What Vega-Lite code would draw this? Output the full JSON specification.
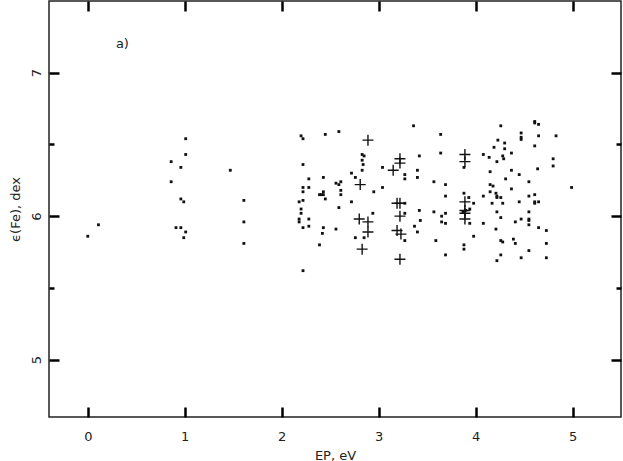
{
  "$schema": "https://vega.github.io/schema/vega-lite/v6.json",
  "width": 572,
  "height": 416,
  "autosize": {"type": "none"},
  "padding": {"left": 49, "top": 1, "right": 2, "bottom": 44},
  "background": "white",
  "config": {
    "view": {"stroke": "#222", "strokeWidth": 1.5},
    "font": "DejaVu Sans",
    "axis": {"grid": false, "domain": false, "labelColor": "#222", "titleColor": "#222", "labelFont": "DejaVu Sans", "titleFont": "DejaVu Sans", "labelFontSize": 13, "titleFontSize": 13, "titleFontWeight": "normal"}
  },
  "datasets": {
    "dots": [
      {"ep": 0.0, "eps": 5.86}, {"ep": 0.11, "eps": 5.94},
      {"ep": 1.01, "eps": 6.54}, {"ep": 1.01, "eps": 6.43}, {"ep": 0.86, "eps": 6.38}, {"ep": 0.96, "eps": 6.34}, {"ep": 0.86, "eps": 6.24}, {"ep": 0.96, "eps": 6.12}, {"ep": 0.99, "eps": 6.10}, {"ep": 0.91, "eps": 5.92}, {"ep": 0.96, "eps": 5.92}, {"ep": 1.01, "eps": 5.89}, {"ep": 0.99, "eps": 5.85},
      {"ep": 1.47, "eps": 6.32}, {"ep": 1.61, "eps": 6.11}, {"ep": 1.61, "eps": 5.96}, {"ep": 1.61, "eps": 5.81},
      {"ep": 2.20, "eps": 6.56}, {"ep": 2.22, "eps": 6.54}, {"ep": 2.45, "eps": 6.57}, {"ep": 2.59, "eps": 6.59}, {"ep": 2.22, "eps": 6.36}, {"ep": 2.28, "eps": 6.26}, {"ep": 2.43, "eps": 6.27}, {"ep": 2.56, "eps": 6.23}, {"ep": 2.59, "eps": 6.22}, {"ep": 2.22, "eps": 6.20}, {"ep": 2.28, "eps": 6.20}, {"ep": 2.22, "eps": 6.17}, {"ep": 2.43, "eps": 6.17}, {"ep": 2.39, "eps": 6.15}, {"ep": 2.41, "eps": 6.15}, {"ep": 2.43, "eps": 6.15}, {"ep": 2.45, "eps": 6.12}, {"ep": 2.18, "eps": 6.10}, {"ep": 2.22, "eps": 6.11}, {"ep": 2.59, "eps": 6.06}, {"ep": 2.20, "eps": 6.05}, {"ep": 2.20, "eps": 6.02}, {"ep": 2.18, "eps": 5.98}, {"ep": 2.18, "eps": 5.96}, {"ep": 2.28, "eps": 5.98}, {"ep": 2.22, "eps": 5.92}, {"ep": 2.28, "eps": 5.93}, {"ep": 2.43, "eps": 5.92}, {"ep": 2.56, "eps": 5.91}, {"ep": 2.42, "eps": 5.88}, {"ep": 2.39, "eps": 5.80}, {"ep": 2.22, "eps": 5.62},
      {"ep": 2.83, "eps": 6.43}, {"ep": 2.85, "eps": 6.42}, {"ep": 2.83, "eps": 6.39}, {"ep": 2.84, "eps": 6.36}, {"ep": 2.83, "eps": 6.32}, {"ep": 2.72, "eps": 6.30}, {"ep": 2.76, "eps": 6.27}, {"ep": 3.04, "eps": 6.34}, {"ep": 2.61, "eps": 6.24}, {"ep": 2.61, "eps": 6.18}, {"ep": 2.61, "eps": 6.15}, {"ep": 3.04, "eps": 6.20}, {"ep": 2.95, "eps": 6.17}, {"ep": 2.72, "eps": 6.10}, {"ep": 2.94, "eps": 6.02}, {"ep": 2.76, "eps": 5.85}, {"ep": 2.85, "eps": 5.85}, {"ep": 3.27, "eps": 6.02}, {"ep": 3.27, "eps": 5.83}, {"ep": 3.27, "eps": 6.29}, {"ep": 3.27, "eps": 6.26},
      {"ep": 3.36, "eps": 6.63}, {"ep": 3.42, "eps": 6.42}, {"ep": 3.40, "eps": 6.32}, {"ep": 3.40, "eps": 6.27}, {"ep": 3.57, "eps": 6.24}, {"ep": 3.42, "eps": 6.04}, {"ep": 3.57, "eps": 6.03}, {"ep": 3.43, "eps": 5.97}, {"ep": 3.37, "eps": 5.93}, {"ep": 3.40, "eps": 5.89}, {"ep": 3.59, "eps": 5.83},
      {"ep": 3.64, "eps": 6.57}, {"ep": 3.64, "eps": 6.44}, {"ep": 3.69, "eps": 6.22}, {"ep": 3.69, "eps": 6.14}, {"ep": 3.27, "eps": 6.09}, {"ep": 3.69, "eps": 6.02}, {"ep": 3.65, "eps": 6.00}, {"ep": 3.69, "eps": 5.95}, {"ep": 3.65, "eps": 5.96}, {"ep": 3.69, "eps": 5.73},
      {"ep": 3.88, "eps": 6.34}, {"ep": 3.88, "eps": 6.16}, {"ep": 3.93, "eps": 6.13}, {"ep": 3.98, "eps": 6.09}, {"ep": 3.94, "eps": 6.05}, {"ep": 3.90, "eps": 6.04}, {"ep": 3.87, "eps": 6.03}, {"ep": 3.94, "eps": 5.95}, {"ep": 3.98, "eps": 5.86}, {"ep": 3.88, "eps": 5.80}, {"ep": 3.88, "eps": 5.77},
      {"ep": 4.61, "eps": 6.66}, {"ep": 4.61, "eps": 6.65}, {"ep": 4.65, "eps": 6.64}, {"ep": 4.26, "eps": 6.63}, {"ep": 4.47, "eps": 6.58}, {"ep": 4.47, "eps": 6.55}, {"ep": 4.47, "eps": 6.535}, {"ep": 4.65, "eps": 6.56}, {"ep": 4.23, "eps": 6.53}, {"ep": 4.30, "eps": 6.51}, {"ep": 4.19, "eps": 6.48}, {"ep": 4.30, "eps": 6.47}, {"ep": 4.61, "eps": 6.49}, {"ep": 4.08, "eps": 6.43}, {"ep": 4.37, "eps": 6.44}, {"ep": 4.14, "eps": 6.41}, {"ep": 4.28, "eps": 6.42}, {"ep": 4.29, "eps": 6.40}, {"ep": 4.22, "eps": 6.38}, {"ep": 4.64, "eps": 6.33}, {"ep": 4.37, "eps": 6.32}, {"ep": 4.15, "eps": 6.31}, {"ep": 4.45, "eps": 6.29}, {"ep": 4.31, "eps": 6.26}, {"ep": 4.55, "eps": 6.24}, {"ep": 4.15, "eps": 6.22}, {"ep": 4.18, "eps": 6.21}, {"ep": 4.37, "eps": 6.19}, {"ep": 4.15, "eps": 6.17}, {"ep": 4.21, "eps": 6.16}, {"ep": 4.08, "eps": 6.14}, {"ep": 4.22, "eps": 6.14}, {"ep": 4.22, "eps": 6.13}, {"ep": 4.26, "eps": 6.13}, {"ep": 4.55, "eps": 6.14}, {"ep": 4.61, "eps": 6.15}, {"ep": 4.61, "eps": 6.10}, {"ep": 4.61, "eps": 6.09}, {"ep": 4.65, "eps": 6.10}, {"ep": 4.45, "eps": 6.10}, {"ep": 4.17, "eps": 6.09}, {"ep": 4.28, "eps": 6.09}, {"ep": 4.22, "eps": 6.03}, {"ep": 4.55, "eps": 6.03}, {"ep": 4.26, "eps": 5.99}, {"ep": 4.47, "eps": 5.98}, {"ep": 4.55, "eps": 5.98}, {"ep": 4.55, "eps": 5.97}, {"ep": 4.08, "eps": 5.95}, {"ep": 4.41, "eps": 5.96}, {"ep": 4.55, "eps": 5.94}, {"ep": 4.65, "eps": 5.92}, {"ep": 4.21, "eps": 5.91}, {"ep": 4.73, "eps": 5.90}, {"ep": 4.26, "eps": 5.83}, {"ep": 4.28, "eps": 5.82}, {"ep": 4.39, "eps": 5.84}, {"ep": 4.41, "eps": 5.81}, {"ep": 4.73, "eps": 5.81}, {"ep": 4.55, "eps": 5.76}, {"ep": 4.26, "eps": 5.73}, {"ep": 4.47, "eps": 5.71}, {"ep": 4.73, "eps": 5.71}, {"ep": 4.22, "eps": 5.69},
      {"ep": 4.83, "eps": 6.56}, {"ep": 4.80, "eps": 6.40}, {"ep": 4.80, "eps": 6.35}, {"ep": 4.99, "eps": 6.20}
    ],
    "crosses": [
      {"ep": 2.89, "eps": 6.53}, {"ep": 2.81, "eps": 6.22}, {"ep": 2.80, "eps": 5.98}, {"ep": 2.89, "eps": 5.96}, {"ep": 2.89, "eps": 5.89}, {"ep": 2.83, "eps": 5.77},
      {"ep": 3.22, "eps": 6.40}, {"ep": 3.22, "eps": 6.37}, {"ep": 3.15, "eps": 6.32}, {"ep": 3.19, "eps": 6.09}, {"ep": 3.22, "eps": 6.09}, {"ep": 3.22, "eps": 6.00}, {"ep": 3.19, "eps": 5.90}, {"ep": 3.23, "eps": 5.875}, {"ep": 3.22, "eps": 5.70},
      {"ep": 3.89, "eps": 6.43}, {"ep": 3.89, "eps": 6.38}, {"ep": 3.89, "eps": 6.10}, {"ep": 3.89, "eps": 6.04}, {"ep": 3.89, "eps": 6.02}, {"ep": 3.89, "eps": 5.98}
    ],
    "notes": [{"ep": 0.29, "eps": 7.2, "t": "a)"}]
  },
  "resolve": {"axis": {"x": "independent", "y": "independent"}},
  "layer": [
    {
      "data": {"name": "dots"},
      "mark": {"type": "point", "shape": "square", "filled": true, "size": 8, "color": "#111", "opacity": 1},
      "encoding": {
        "x": {"field": "ep", "type": "quantitative", "scale": {"domain": [-0.4, 5.5], "nice": false, "zero": false},
          "axis": {"orient": "bottom", "values": [0, 1, 2, 3, 4, 5], "ticks": true, "tickColor": "black", "tickWidth": 2.5, "offset": -10, "tickSize": 10, "labelPadding": 13, "title": "EP, eV", "titlePadding": 6}},
        "y": {"field": "eps", "type": "quantitative", "scale": {"domain": [4.6, 7.5], "nice": false, "zero": false},
          "axis": {"orient": "left", "values": [5, 6, 7], "ticks": true, "tickColor": "black", "tickWidth": 2.5, "offset": -10, "tickSize": 10, "format": "d", "labelAngle": -90, "labelPadding": 6, "title": "ϵ(Fe), dex", "titlePadding": 8}}
      }
    },
    {
      "data": {"name": "crosses"},
      "mark": {"type": "point", "shape": "M-1,0H1M0,-1V1", "filled": false, "size": 121, "stroke": "#111", "strokeWidth": 1.4, "opacity": 1},
      "encoding": {
        "x": {"field": "ep", "type": "quantitative", "scale": {"domain": [-0.4, 5.5], "nice": false, "zero": false},
          "axis": {"orient": "top", "values": [0, 1, 2, 3, 4, 5], "ticks": true, "tickColor": "black", "tickWidth": 2.5, "offset": -10, "tickSize": 10, "labels": false, "title": null}},
        "y": {"field": "eps", "type": "quantitative", "scale": {"domain": [4.6, 7.5], "nice": false, "zero": false},
          "axis": {"orient": "right", "values": [5, 6, 7], "ticks": true, "tickColor": "black", "tickWidth": 2.5, "offset": -10, "tickSize": 10, "labels": false, "title": null}}
      }
    },
    {
      "data": {"name": "notes"},
      "mark": {"type": "text", "align": "left", "baseline": "middle", "fontSize": 13, "font": "DejaVu Sans", "color": "#222"},
      "encoding": {
        "x": {"field": "ep", "type": "quantitative", "scale": {"domain": [-0.4, 5.5], "nice": false, "zero": false}, "axis": null},
        "y": {"field": "eps", "type": "quantitative", "scale": {"domain": [4.6, 7.5], "nice": false, "zero": false},
          "axis": {"orient": "left", "values": [5.5, 6.5], "ticks": true, "tickColor": "black", "tickWidth": 2.5, "offset": -5, "tickSize": 5, "labels": false, "title": null}},
        "text": {"field": "t"}
      }
    },
    {
      "data": {"name": "notes"},
      "mark": {"type": "text", "opacity": 0},
      "encoding": {
        "x": {"field": "ep", "type": "quantitative", "scale": {"domain": [-0.4, 5.5], "nice": false, "zero": false}, "axis": null},
        "y": {"field": "eps", "type": "quantitative", "scale": {"domain": [4.6, 7.5], "nice": false, "zero": false},
          "axis": {"orient": "right", "values": [5.5, 6.5], "ticks": true, "tickColor": "black", "tickWidth": 2.5, "offset": -5, "tickSize": 5, "labels": false, "title": null}},
        "text": {"field": "t"}
      }
    }
  ]
}
